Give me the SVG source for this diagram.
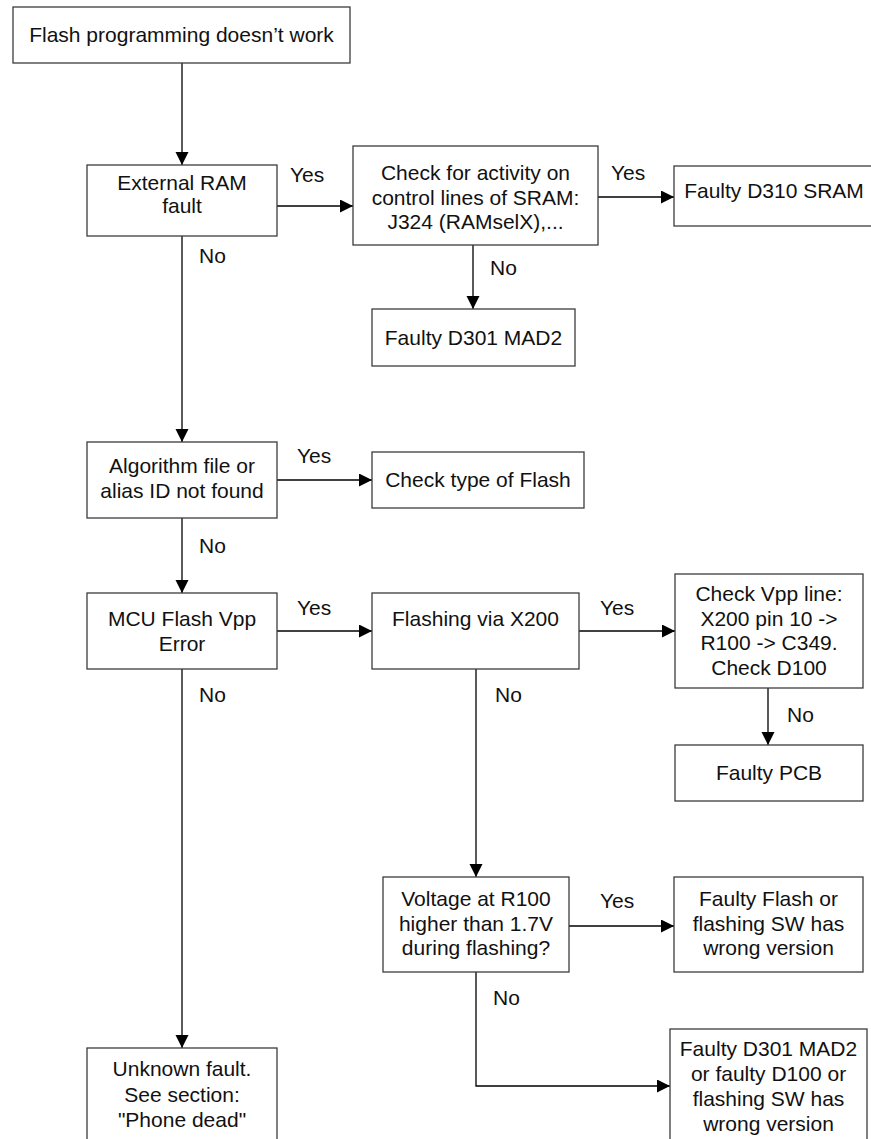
<svg xmlns="http://www.w3.org/2000/svg" width="871" height="1139" viewBox="0 0 871 1139">
<defs>
<marker id="arr" markerUnits="userSpaceOnUse" markerWidth="14" markerHeight="14" refX="13" refY="6.5" orient="auto">
<path d="M0,0 L13,6.5 L0,13 Z" fill="#000"/>
</marker>
<style>
.box{fill:#fff;stroke:#3c3c3c;stroke-width:1.3}
.t{font-family:"Liberation Sans",Arial,sans-serif;font-size:21px;fill:#111;text-anchor:middle}
.l{font-family:"Liberation Sans",Arial,sans-serif;font-size:21px;fill:#111}
.c{fill:none;stroke:#000;stroke-width:1.3}
.a{marker-end:url(#arr)}
</style>
</defs>
<rect width="871" height="1139" fill="#fff"/>

<g id="connectors">
<path class="c a" d="M182,63 V165"/>
<path class="c a" d="M277,206 H353"/>
<path class="c a" d="M598,197 H674"/>
<path class="c a" d="M473,245 V309"/>
<path class="c a" d="M182,236 V442"/>
<path class="c a" d="M277,480 H372"/>
<path class="c a" d="M182,518 V593"/>
<path class="c a" d="M277,631 H372"/>
<path class="c a" d="M579,631 H675"/>
<path class="c a" d="M768,688 V745"/>
<path class="c a" d="M476,669 V877"/>
<path class="c a" d="M569,926 H674"/>
<path class="c a" d="M476,972 V1086 H670"/>
<path class="c a" d="M182,669 V1048"/>
<text class="l" x="290" y="182">Yes</text>
<text class="l" x="611" y="180">Yes</text>
<text class="l" x="199" y="263">No</text>
<text class="l" x="490" y="275">No</text>
<text class="l" x="297" y="463">Yes</text>
<text class="l" x="199" y="553">No</text>
<text class="l" x="297" y="615">Yes</text>
<text class="l" x="600" y="615">Yes</text>
<text class="l" x="199" y="702">No</text>
<text class="l" x="495" y="702">No</text>
<text class="l" x="787" y="722">No</text>
<text class="l" x="600" y="908">Yes</text>
<text class="l" x="493" y="1005">No</text>
</g>

<g id="n-start">
<rect class="box" x="13" y="7" width="337" height="56"/>
<text class="t" x="181.5" y="42">Flash programming doesn’t work</text>
</g>

<g id="n-extram">
<rect class="box" x="87" y="165" width="190" height="71"/>
<text class="t" x="182" y="190">External RAM</text>
<text class="t" x="182" y="213">fault</text>
</g>

<g id="n-checksram">
<rect class="box" x="353" y="146" width="245" height="99"/>
<text class="t" x="475.5" y="180">Check for activity on</text>
<text class="t" x="475.5" y="205">control lines of SRAM:</text>
<text class="t" x="475.5" y="229">J324 (RAMselX),...</text>
</g>

<g id="n-d310">
<rect class="box" x="674" y="166" width="200" height="60"/>
<text class="t" x="774" y="198">Faulty D310 SRAM</text>
</g>

<g id="n-mad2a">
<rect class="box" x="372" y="309" width="203" height="57"/>
<text class="t" x="473.5" y="345">Faulty D301 MAD2</text>
</g>

<g id="n-algo">
<rect class="box" x="87" y="442" width="190" height="76"/>
<text class="t" x="182" y="473">Algorithm file or</text>
<text class="t" x="182" y="498">alias ID not found</text>
</g>

<g id="n-flashtype">
<rect class="box" x="372" y="452" width="212" height="56"/>
<text class="t" x="478" y="487">Check type of Flash</text>
</g>

<g id="n-mcu">
<rect class="box" x="87" y="593" width="190" height="76"/>
<text class="t" x="182" y="626">MCU Flash Vpp</text>
<text class="t" x="182" y="651">Error</text>
</g>

<g id="n-x200">
<rect class="box" x="372" y="593" width="207" height="76"/>
<text class="t" x="475.5" y="626">Flashing via X200</text>
</g>

<g id="n-vpp">
<rect class="box" x="675" y="574" width="188" height="114"/>
<text class="t" x="769" y="601">Check Vpp line:</text>
<text class="t" x="769" y="625.5">X200 pin 10 -&gt;</text>
<text class="t" x="769" y="650">R100 -&gt; C349.</text>
<text class="t" x="769" y="674.5">Check D100</text>
</g>

<g id="n-pcb">
<rect class="box" x="675" y="745" width="188" height="56"/>
<text class="t" x="769" y="780">Faulty PCB</text>
</g>

<g id="n-voltage">
<rect class="box" x="383" y="877" width="186" height="95"/>
<text class="t" x="476" y="906">Voltage at R100</text>
<text class="t" x="476" y="930.5">higher than 1.7V</text>
<text class="t" x="476" y="955">during flashing?</text>
</g>

<g id="n-faultyflash">
<rect class="box" x="674" y="877" width="189" height="95"/>
<text class="t" x="768.5" y="906">Faulty Flash or</text>
<text class="t" x="768.5" y="930.5">flashing SW has</text>
<text class="t" x="768.5" y="955">wrong version</text>
</g>

<g id="n-mad2b">
<rect class="box" x="670" y="1029" width="197" height="130"/>
<text class="t" x="768.5" y="1056">Faulty D301 MAD2</text>
<text class="t" x="768.5" y="1081">or faulty D100 or</text>
<text class="t" x="768.5" y="1106">flashing SW has</text>
<text class="t" x="768.5" y="1130.5">wrong version</text>
</g>

<g id="n-unknown">
<rect class="box" x="87" y="1048" width="190" height="110"/>
<text class="t" x="182" y="1076">Unknown fault.</text>
<text class="t" x="182" y="1101.5">See section:</text>
<text class="t" x="182" y="1126.5">"Phone dead"</text>
</g>
</svg>
